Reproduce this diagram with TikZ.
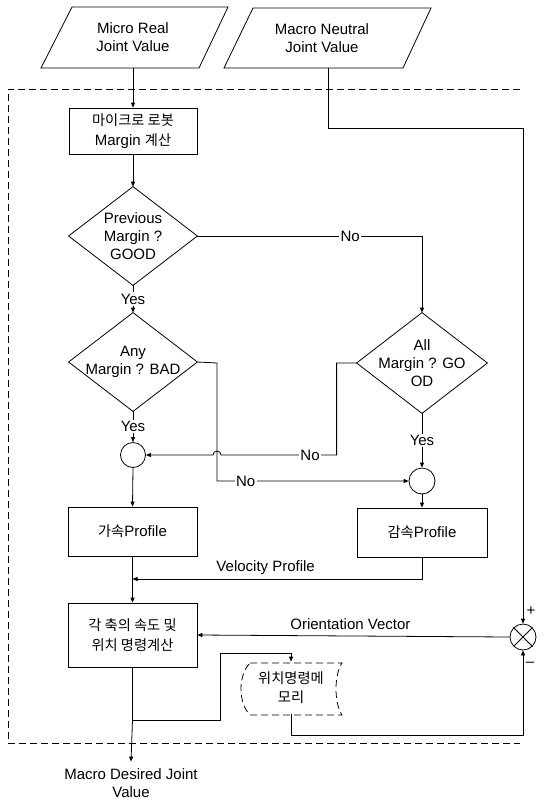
\documentclass[tikz,border=0pt]{standalone}
\usepackage{fontspec}
\setmainfont{Liberation Sans}
\newfontfamily\krf{Noto Sans CJK KR}[Scale=0.95]
\newcommand\kr[1]{{\krf #1}}
\usetikzlibrary{arrows.meta}
\begin{document}
\begin{tikzpicture}[x=1pt,y=-1pt, line width=0.8pt,
  font=\fontsize{15}{18}\selectfont,
  arr/.style={-{Triangle[length=5pt,width=4pt]}},
  lbl/.style={fill=white, inner sep=1.5pt},
  txt/.style={align=center, inner sep=0pt},
  boxn/.style={draw, align=center, inner sep=0pt},
  bound/.style={dash pattern=on 7pt off 4pt}]
\useasboundingbox (0,0) rectangle (559,801);

% boundary
\draw[bound] (520,89) -- (8,89) -- (8,743) -- (520,743);

% inputs
\draw[fill=white] (72,7) -- (228,7) -- (199,68) -- (41,68) -- cycle;
\node[txt, minimum width=100, minimum height=61] (in1) at (133,37.5) {Micro Real\\Joint Value};
\draw[fill=white] (253,8) -- (431,8) -- (403,68) -- (224,68) -- cycle;
\node[txt, minimum width=100, minimum height=60] (in2) at (322,38) {Macro Neutral\\Joint Value};

% process nodes
\node[boxn, fill=white, minimum width=128, minimum height=46] (b1) at (133,131) {\kr{마이크로 로봇}\\[2pt]Margin \kr{계산}};

\node[txt, minimum width=128, minimum height=98] (d1) at (133,236) {Previous\\Margin ?\\GOOD};
\draw (d1.north) -- (d1.east) -- (d1.south) -- (d1.west) -- cycle;
\node[txt, minimum width=128, minimum height=98] (d2) at (133,362) {Any\\Margin ? BAD};
\draw (d2.north) -- (d2.east) -- (d2.south) -- (d2.west) -- cycle;
\node[txt, minimum width=130, minimum height=100] (d3) at (422,363) {All\\Margin ? GO\\OD};
\draw (d3.north) -- (d3.east) -- (d3.south) -- (d3.west) -- cycle;

\node[draw, circle, minimum size=25, inner sep=0] (c1) at (133,455) {};
\node[draw, circle, minimum size=26, inner sep=0] (c2) at (422,481) {};

\node[boxn, minimum width=129, minimum height=49] (acc) at (132.5,531.5) {\kr{가속}Profile};
\node[boxn, minimum width=130, minimum height=49] (dec) at (422,532.5) {\kr{감속}Profile};
\node[boxn, minimum width=129, minimum height=64] (calc) at (132.5,635) {\kr{각 축의 속도 및}\\[2pt]\kr{위치 명령계산}};

\node[draw, circle, minimum size=26, inner sep=0] (sum) at (523,637) {};
\draw (sum.45) -- (sum.225) (sum.135) -- (sum.315);

\node[txt, minimum width=102, minimum height=52] (mem) at (291,688) {\kr{위치명령메}\\[1pt]\kr{모리}};
\draw[bound] (250,663) -- (342,663) .. controls (334,675) and (334,703) .. (342,715) -- (250,715) .. controls (238,703) and (238,675) .. (250,663);

\node[txt, minimum width=130, minimum height=42] (out) at (131,783) {Macro Desired Joint\\Value};

% helper coordinates
\coordinate (vx) at (217,363);
\coordinate (nt) at (328,128);
\coordinate (vj) at (132.5,579);
\coordinate (j2) at (132.5,720);
\coordinate (mj) at (220,653);
\coordinate (mb) at (291,735);

% connectors
\draw[arr] (in1.south) -- (b1.north);
\draw[arr] (b1.south) -- (d1.north);
\draw[arr] (d1.east) -- node[lbl, pos=0.68]{No} (d3.north |- d1.east) -- (d3.north);
\draw[arr] (d1.south) -- node[lbl]{Yes} (d2.north);
\draw[arr] (d2.south) -- node[lbl]{Yes} (c1.north);
\draw[arr] (d3.west) -- ++(-20,0) coordinate (k1) -- (k1 |- c1.east) -- node[lbl, pos=0.23]{No} ([xshift=4pt]vx |- c1.east) arc[start angle=0, end angle=180, radius=4pt] -- (c1.east);
\draw[arr] (d2.east) -- (vx) -- (vx |- c2.west) -- node[lbl, pos=0.15]{No} (c2.west);
\draw[arr] (d3.south) -- node[lbl]{Yes} (c2.north);
\draw[arr] (c2.south) -- (dec.north);
\draw[arr] (c1.south) -- (acc.north);
\draw[arr] (acc.south) -- (calc.north);
\draw[arr] (dec.south) |- node[above=1pt, pos=0.77]{Velocity Profile} (vj);
\draw[arr] ([xshift=6pt]in2.south) -- (nt) -| (sum.north);
\node at ([shift={(8,-12)}]sum.north) {+};
\draw[arr] (sum.west) -- node[above=3pt, pos=0.51]{Orientation Vector} (calc.east);
\draw (calc.south) -- (j2);
\draw[arr] (j2) -- (out.north);
\draw[arr] (j2) -| (mj) -| (mem.north);
\draw[arr] (mem.south) -- (mb) -| (sum.south);
\node at ([shift={(7,14)}]sum.south) {–};
\end{tikzpicture}
\end{document}
